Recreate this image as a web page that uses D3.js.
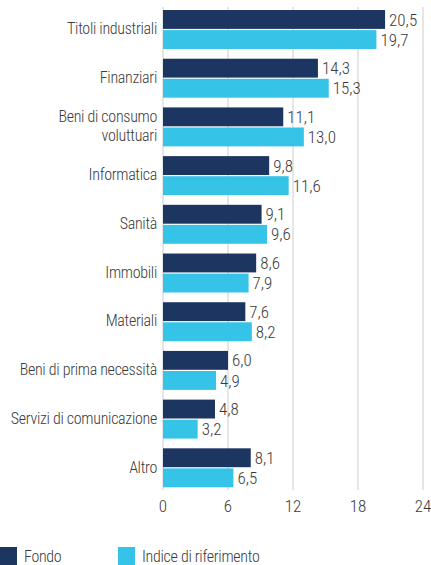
<!doctype html>
<html>
<head>
<meta charset="utf-8"/>
<script src="https://cdnjs.cloudflare.com/ajax/libs/d3/7.8.5/d3.min.js"></script>
<style>
  body { margin: 0; background: #fff; }
  svg text { font-family: "Liberation Sans Narrow", "Roboto Condensed", "DejaVu Sans Condensed", sans-serif; font-weight: 300; fill: #3a3a3a; }
</style>
</head>
<body>
<svg width="431" height="565"></svg>
<script>
// sector allocation (%)
var categories = ["Titoli industriali", "Finanziari", "Beni di consumo\nvoluttuari", "Informatica",
  "Sanità", "Immobili", "Materiali", "Beni di prima necessità", "Servizi di comunicazione", "Altro"]
var fondo = [20.5, 14.3, 11.1, 9.8, 9.1, 8.6, 7.6, 6.0, 4.8, 8.1]
var indice = [19.7, 15.3, 13.0, 11.6, 9.6, 7.9, 8.2, 4.9, 3.2, 6.5]
var seriesNames = ["Fondo", "Indice di riferimento"]
var ticks = [0, 6, 12, 18, 24]

var colors = ["#1c3661", "#35c4e8"]

var svg = d3.select("svg")

var x = d3.scaleLinear().domain([0, 24]).range([163, 423])

var y = d3.scaleBand().domain(categories).range([5.15, 492.15])
  .paddingInner(0.2).paddingOuter(0.1)

var ySub = d3.scaleBand().domain(seriesNames).range([0, y.bandwidth()]).paddingInner(0.06)

var fmt = v => d3.format(".1f")(v).replace(".", ",")

// gridlines
svg.append("g").selectAll("line")
  .data(ticks)
  .join("line")
  .attr("x1", d => x(d)).attr("x2", d => x(d))
  .attr("y1", 7).attr("y2", 490)
  .attr("stroke", "#e6e6e6")
  .attr("stroke-width", 2)

var rows = categories.map((c, i) => ({cat: c, vals: [fondo[i], indice[i]]}))

var g = svg.append("g").selectAll("g")
  .data(rows)
  .join("g")
  .attr("transform", d => "translate(0," + y(d.cat) + ")")

g.selectAll("rect")
  .data(d => d.vals.map((v, j) => ({v: v, s: seriesNames[j], j: j})))
  .join("rect")
  .attr("x", x(0))
  .attr("y", d => ySub(d.s))
  .attr("width", d => x(d.v) - x(0))
  .attr("height", ySub.bandwidth())
  .attr("fill", d => colors[d.j])

g.selectAll("text.val")
  .data(d => d.vals.map((v, j) => ({v: v, s: seriesNames[j]})))
  .join("text")
  .attr("class", "val")
  .attr("x", d => x(d.v) + 4)
  .attr("y", d => ySub(d.s) + ySub.bandwidth() / 2)
  .attr("dy", "0.36em")
  .attr("font-size", 17)
  .text(d => fmt(d.v))

// category labels, one text per line
g.each(function(d) {
  var lines = d.cat.split("\n")
  var cell = d3.select(this)
  lines.forEach((l, k) => {
    cell.append("text")
      .attr("text-anchor", "end")
      .attr("font-size", 16)
      .attr("letter-spacing", "-0.3px")
      .attr("x", 157)
      .attr("y", y.bandwidth() / 2 - 1 + (k - (lines.length - 1) / 2) * 18.5)
      .attr("dy", "0.36em")
      .text(l)
  })
})

// x axis labels
svg.append("g").selectAll("text")
  .data(ticks)
  .join("text")
  .attr("x", d => x(d))
  .attr("y", 512)
  .attr("text-anchor", "middle")
  .attr("font-size", 17)
  .text(d => d)

// legend
var leg = svg.append("g").selectAll("g")
  .data(seriesNames)
  .join("g")
  .attr("transform", (d, i) => "translate(" + [0, 118][i] + ",547)")
leg.append("rect").attr("width", 17).attr("height", 18).attr("fill", (d, i) => colors[i])
leg.append("text").attr("x", 24).attr("y", 15).attr("font-size", 16)
  .attr("letter-spacing", "-0.3px").text(d => d)
</script>
</body>
</html>
